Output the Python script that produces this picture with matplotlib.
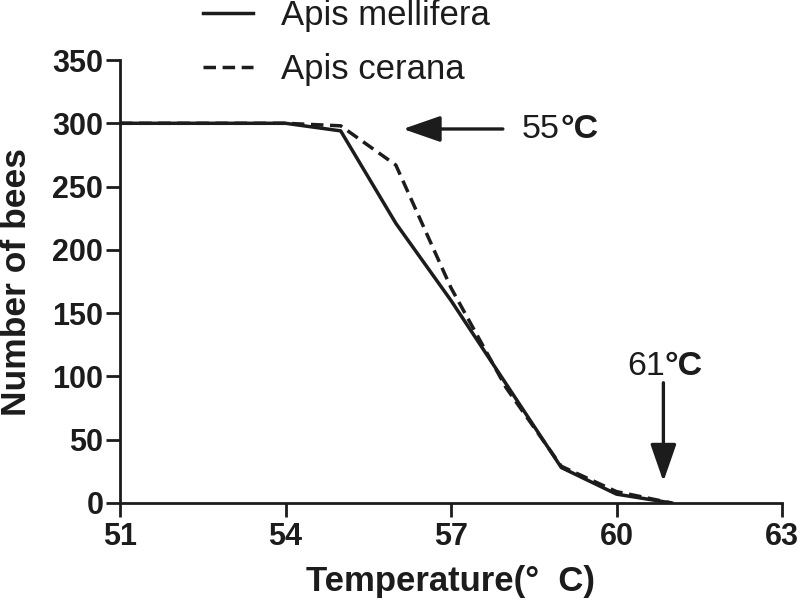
import matplotlib

matplotlib.use("Agg")
import matplotlib.pyplot as plt

INK = "#1c1c1c"

temps = [51, 52, 53, 54, 55, 56, 57, 58, 59, 60, 61]
mellifera = [300, 300, 300, 300, 294, 221, 160, 94, 28, 7, 0]
cerana = [300, 300, 300, 300, 298, 267, 170, 91, 29, 9, 0]

x_ticks = [51, 54, 57, 60, 63]
y_ticks = [0, 50, 100, 150, 200, 250, 300, 350]

plt.rcParams["font.family"] = ["Liberation Sans", "DejaVu Sans"]

fig = plt.figure(figsize=(8.0, 6.06), dpi=100)
ax = fig.add_axes([120 / 800, 103 / 606, 662 / 800, 443 / 606])

ax.plot(temps, mellifera, color=INK, lw=2.5, label="Apis mellifera")
ax.plot(temps, cerana, color=INK, lw=2.5, linestyle=(0, (3.6, 1.9)),
        label="Apis cerana")

ax.set_xlim(51, 63)
ax.set_ylim(0, 350)
ax.set_xticks(x_ticks)
ax.set_yticks(y_ticks)

for side in ("top", "right"):
    ax.spines[side].set_visible(False)
for side in ("left", "bottom"):
    ax.spines[side].set_linewidth(2.0)
    ax.spines[side].set_color(INK)

ax.tick_params(direction="out", length=10, width=2.0, color=INK,
               labelsize=22, pad=2)
for lab in ax.get_xticklabels() + ax.get_yticklabels():
    lab.set_fontweight("bold")
    lab.set_color(INK)
ax.tick_params(axis="x", pad=4)

ax.set_xlabel("Temperature(°  C)", fontsize=25, fontweight="bold", color=INK, va="center")
ax.xaxis.set_label_coords(0.5, -0.178)
ax.set_ylabel("Number of bees", fontsize=25.5, fontweight="bold", color=INK, va="center")
ax.yaxis.set_label_coords(-0.157, 0.5)

# annotations
arrow = dict(arrowstyle="-|>,head_length=1.15,head_width=0.4", lw=2.4,
             color=INK, mutation_scale=20, shrinkA=0, shrinkB=0)
ax.annotate("", xy=(56.13, 295.5), xytext=(57.94, 295.5), arrowprops=arrow)
t55 = ax.text(58.29, 288.4, "55", fontsize=24.5, color=INK, va="baseline", ha="left")
ax.annotate("°C", xy=(1, 0), xycoords=t55, fontsize=24.5, fontweight="bold",
            color=INK, va="bottom", ha="left")

ax.annotate("", xy=(60.85, 17), xytext=(60.85, 95), arrowprops=arrow)
t61 = ax.text(60.19, 101, "61", fontsize=24.5, color=INK, va="baseline", ha="left")
ax.annotate("°C", xy=(1, 0), xycoords=t61, fontsize=24.5, fontweight="bold",
            color=INK, va="bottom", ha="left")

leg = ax.legend(loc="upper left", bbox_to_anchor=(203 / 800, 1.0 + 1 / 606),
                bbox_transform=fig.transFigure, frameon=False, fontsize=25,
                handlelength=1.45, handletextpad=0.8, labelspacing=0.6,
                borderpad=0, borderaxespad=0)
for t in leg.get_texts():
    t.set_color(INK)

fig.savefig("out.png", dpi=100)
